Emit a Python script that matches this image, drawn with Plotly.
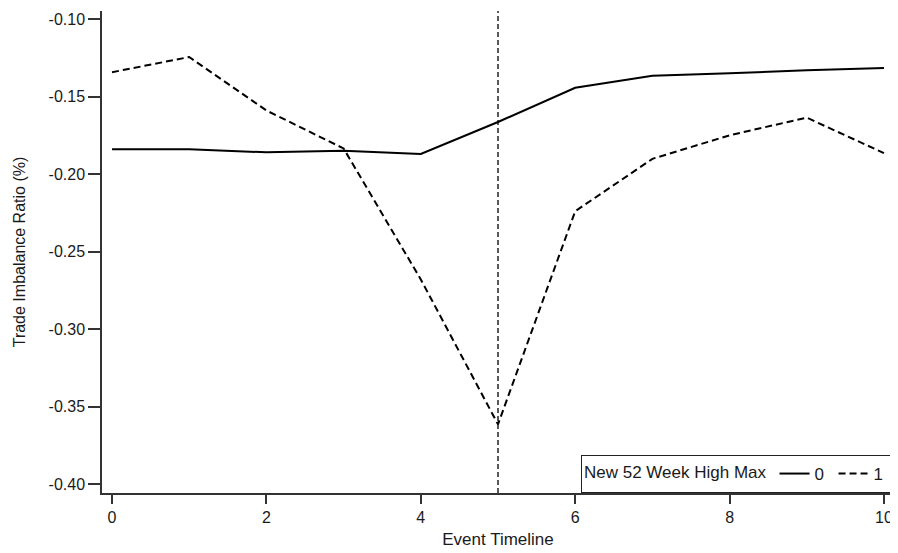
import plotly.graph_objects as go

event_time = [0, 1, 2, 3, 4, 5, 6, 7, 8, 9, 10]
series_0 = [-0.184, -0.184, -0.186, -0.185, -0.187, -0.1664, -0.1443, -0.1366, -0.135, -0.133, -0.1315]
series_1 = [-0.1343, -0.1245, -0.159, -0.1835, -0.268, -0.3615, -0.224, -0.1902, -0.175, -0.1636, -0.1865]
event_line_x = 5

y_tickvals = [-0.40, -0.35, -0.30, -0.25, -0.20, -0.15, -0.10]
y_ticktext = ["-0.40", "-0.35", "-0.30", "-0.25", "-0.20", "-0.15", "-0.10"]
x_tickvals = [0, 2, 4, 6, 8, 10]
x_ticktext = ["0", "2", "4", "6", "8", "10"]

FONT = "Liberation Sans, Arial, sans-serif"
TXT = "#1a1a1a"

fig = go.Figure()
fig.add_trace(go.Scatter(x=event_time, y=series_0, mode="lines", name="0",
                         line=dict(color="black", width=2)))
fig.add_trace(go.Scatter(x=event_time, y=series_1, mode="lines", name="1",
                         line=dict(color="black", width=2, dash="7px,4px")))

fig.add_shape(type="line", xref="x", yref="paper", x0=event_line_x, x1=event_line_x,
              y0=0, y1=1, line=dict(color="black", width=1.3, dash="5px,3px"))

# page body has an 8px default margin, so the figure is sized/offset to compensate
fig.update_layout(
    template="none",
    width=890, height=545,
    margin=dict(l=94, r=4, t=3, b=60, autoexpand=False),
    paper_bgcolor="white", plot_bgcolor="white",
    font=dict(family=FONT, color=TXT, size=16),
    showlegend=True,
    legend=dict(
        orientation="h", x=1, xanchor="right", y=0, yanchor="bottom",
        bgcolor="white", bordercolor="#222", borderwidth=1,
        title=dict(text="New 52 Week High Max", side="left", font=dict(size=17)),
        font=dict(size=17), itemwidth=30, tracegroupgap=0,
        entrywidth=14, entrywidthmode="pixels",
    ),
    xaxis=dict(
        range=[-0.13, 10.13], tickvals=x_tickvals, ticktext=x_ticktext,
        showline=True, linecolor="#333", linewidth=1.5, mirror=False,
        ticks="outside", ticklen=9, tickwidth=1.5, tickcolor="#333",
        showgrid=False, zeroline=False, automargin=False,
        title=dict(text="Event Timeline", font=dict(size=17), standoff=8),
        tickfont=dict(size=16),
    ),
    yaxis=dict(
        range=[-0.4058, -0.0948], tickvals=y_tickvals, ticktext=y_ticktext,
        showline=True, linecolor="#333", linewidth=1.5, mirror=False,
        ticks="outside", ticklen=12, tickwidth=1.5, tickcolor="#333",
        showgrid=False, zeroline=False, automargin=False,
        title=dict(text="Trade Imbalance Ratio (%)", font=dict(size=16), standoff=19),
        tickfont=dict(size=16),
    ),
)

fig.write_html("out.html")
